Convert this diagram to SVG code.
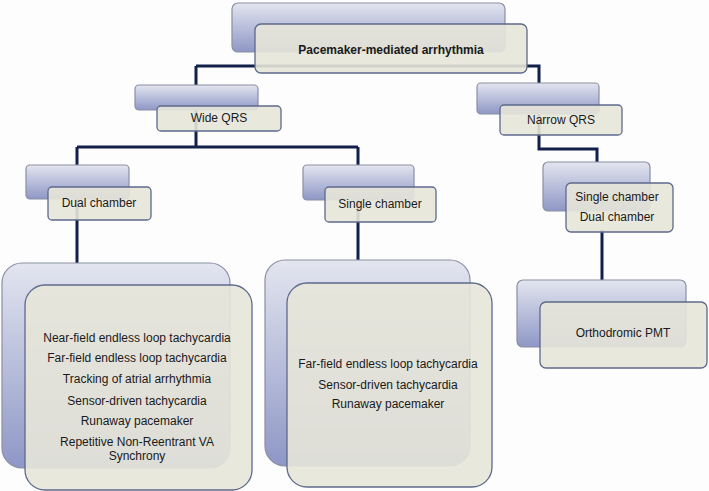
<svg xmlns="http://www.w3.org/2000/svg" width="709" height="491" viewBox="0 0 709 491">
<defs>
<linearGradient id="bg" x1="0" y1="0" x2="0" y2="1">
<stop offset="0" stop-color="#e3e5ef"/>
<stop offset="1" stop-color="#8e97c6"/>
</linearGradient>
<style>
.back{fill:url(#bg);stroke:#8a8fa3;stroke-width:1.2}
.front{fill:#e7e5d9;fill-opacity:0.9;stroke:#5d6a8c;stroke-width:1.3}
.conn{fill:none;stroke:#12204a;stroke-width:3}
text{font-family:"Liberation Sans",Arial,sans-serif;font-size:12px;fill:#1a1a1a;text-anchor:middle}
.b{font-weight:bold}
</style>
</defs>
<rect width="709" height="491" fill="#fdfdfd"/>
<g id="connectors">
<path class="conn" d="M196,66 H539 V149 H597 V165"/>
<path class="conn" d="M196,66 V147 M77,147 H358 M77,147 V268 M358,147 V262"/>
<path class="conn" d="M602,230 V282"/>
</g>
<g id="n-root">
<rect class="back" x="232" y="3" width="273" height="49" rx="6"/>
<rect class="front" x="255" y="24" width="272" height="49" rx="6"/>
<text class="b" x="391" y="54">Pacemaker-mediated arrhythmia</text>
</g>
<g id="n-wide">
<rect class="back" x="135" y="85" width="123" height="25" rx="4"/>
<rect class="front" x="157" y="106" width="124" height="25" rx="4"/>
<text x="219" y="122">Wide QRS</text>
</g>
<g id="n-narrow">
<rect class="back" x="477" y="83" width="122" height="31" rx="4"/>
<rect class="front" x="500" y="105" width="122" height="30" rx="4"/>
<text x="561" y="124">Narrow QRS</text>
</g>
<g id="n-dual">
<rect class="back" x="26" y="165" width="103" height="34" rx="4"/>
<rect class="front" x="48" y="187" width="103" height="33" rx="4"/>
<text x="99" y="207">Dual chamber</text>
</g>
<g id="n-single">
<rect class="back" x="303" y="165" width="111" height="35" rx="4"/>
<rect class="front" x="325" y="187" width="111" height="35" rx="4"/>
<text x="380" y="208">Single chamber</text>
</g>
<g id="n-singledual">
<rect class="back" x="543" y="162" width="107" height="49" rx="5"/>
<rect class="front" x="566" y="183" width="107" height="49" rx="5"/>
<text x="617" y="201">Single chamber</text>
<text x="617" y="221">Dual chamber</text>
</g>
<g id="n-dual-list">
<rect class="back" x="2" y="263" width="228" height="205" rx="20"/>
<rect class="front" x="25" y="285" width="227" height="205" rx="20"/>
<text x="137" y="342">Near-field endless loop tachycardia</text>
<text x="137" y="362">Far-field endless loop tachycardia</text>
<text x="137" y="383">Tracking of atrial arrhythmia</text>
<text x="137" y="405">Sensor-driven tachycardia</text>
<text x="137" y="425">Runaway pacemaker</text>
<text x="137" y="446">Repetitive Non-Reentrant VA</text>
<text x="137" y="460">Synchrony</text>
</g>
<g id="n-single-list">
<rect class="back" x="265" y="260" width="205" height="206" rx="20"/>
<rect class="front" x="287" y="283" width="205" height="204" rx="20"/>
<text x="388" y="368">Far-field endless loop tachycardia</text>
<text x="388" y="389">Sensor-driven tachycardia</text>
<text x="388" y="408">Runaway pacemaker</text>
</g>
<g id="n-ortho">
<rect class="back" x="517" y="280" width="169" height="67" rx="6"/>
<rect class="front" x="540" y="302" width="167" height="66" rx="6"/>
<text x="623" y="337">Orthodromic PMT</text>
</g>
</svg>
